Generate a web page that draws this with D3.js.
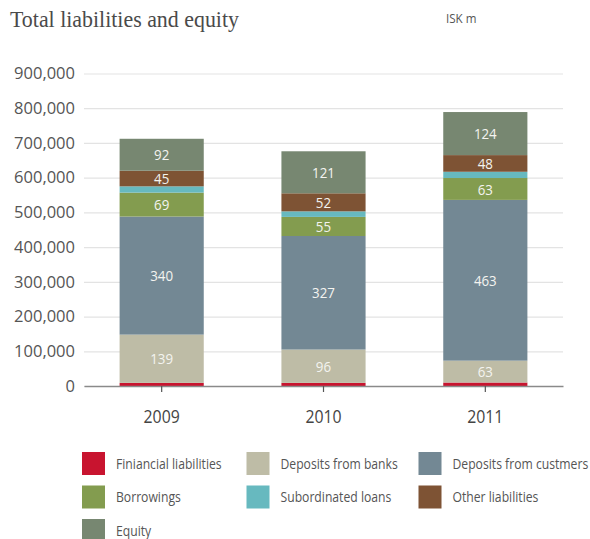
<!DOCTYPE html>
<html>
<head>
<meta charset="utf-8">
<script src="https://cdn.jsdelivr.net/npm/d3@7/dist/d3.min.js"></script>
<style>
  html, body { margin: 0; padding: 0; background: #fff; }
  svg { display: block; }
</style>
</head>
<body>
<svg id="chart" width="590" height="539"></svg>
<script>
// Balance sheet composition, ISK bn per segment (axis shown in ISK m)
const years = ["2009", "2010", "2011"];
const seriesNames = [
  "Finiancial liabilities",
  "Deposits from banks",
  "Deposits from custmers",
  "Borrowings",
  "Subordinated loans",
  "Other liabilities",
  "Equity"
];
const financialLiabilities = [9, 9, 10];
const depositsFromBanks = [139, 96, 63];
const depositsFromCustomers = [340, 327, 463];
const borrowings = [69, 55, 63];
const subordinatedLoans = [18, 16, 18];
const otherLiabilities = [45, 52, 48];
const equity = [92, 121, 124];
const yTickValues = [0, 100000, 200000, 300000, 400000, 500000, 600000, 700000, 800000, 900000];

// Which series carry a value label inside the bar
const labelled = [false, true, true, true, false, true, true];

const colors = ["#c8142f", "#bebca6", "#738894", "#839c4f", "#67b9bf", "#7e5334", "#778771"];

const seriesValues = [
  financialLiabilities, depositsFromBanks, depositsFromCustomers,
  borrowings, subordinatedLoans, otherLiabilities, equity
];

// Table form for d3.stack
const rows = years.map((yr, i) => {
  const r = { year: yr };
  seriesNames.forEach((name, s) => { r[name] = seriesValues[s][i]; });
  return r;
});

const svg = d3.select("#chart");
const plotLeft = 84, plotRight = 563, plotTop = 73.5, plotBottom = 386;

const x = d3.scaleBand().domain(years).range([plotLeft, plotRight])
  .paddingInner(0.48).paddingOuter(0.22);
const y = d3.scaleLinear().domain([0, 900000]).range([plotBottom, plotTop]);
const toM = v => v * 1000;  // ISK bn -> ISK m

// Narrow text horizontally about its anchor point to emulate a condensed face
function condense(sel, k) {
  sel.each(function () {
    const t = d3.select(this);
    const px = +t.attr("x") || 0, py = +t.attr("y") || 0;
    t.attr("transform", `translate(${px},${py}) scale(${k},1) translate(${-px},${-py})`);
  });
}

// Title
svg.append("text")
  .attr("x", 10).attr("y", 26.5)
  .attr("font-family", "Liberation Serif, serif")
  .attr("font-size", 23.5)
  .attr("fill", "#4a4a4a")
  .attr("textLength", 229).attr("lengthAdjust", "spacingAndGlyphs")
  .text("Total liabilities and equity");

svg.append("text")
  .attr("x", 446).attr("y", 23.5)
  .attr("font-family", "Open Sans, sans-serif")
  .attr("font-size", 13.5)
  .attr("fill", "#555")
  .text("ISK m")
  .call(condense, 0.86);

// Y axis with gridlines
const yAxis = svg.append("g")
  .attr("transform", `translate(${plotLeft},0)`)
  .call(d3.axisLeft(y).tickValues(yTickValues).tickFormat(d3.format(","))
    .tickSize(-(plotRight - plotLeft)).tickPadding(9));
yAxis.select(".domain").remove();
yAxis.selectAll(".tick line").attr("stroke", "#e3e3e3").attr("stroke-width", 1.2);
yAxis.selectAll(".tick text")
  .attr("font-family", "Open Sans, sans-serif")
  .attr("font-size", 16.5)
  .attr("fill", "#555");

// Stacked bars
const stack = d3.stack().keys(seriesNames);
const layers = stack(rows);

const layerG = svg.append("g").selectAll("g")
  .data(layers).join("g")
  .attr("fill", (d, i) => colors[i]);

layerG.selectAll("rect")
  .data(d => d)
  .join("rect")
  .attr("x", d => x(d.data.year))
  .attr("width", x.bandwidth())
  .attr("y", d => y(toM(d[1])))
  .attr("height", d => y(toM(d[0])) - y(toM(d[1])));

// Value labels inside segments
layers.forEach((layer, s) => {
  if (!labelled[s]) return;
  svg.append("g").selectAll("text")
    .data(layer).join("text")
    .attr("x", d => x(d.data.year) + x.bandwidth() / 2)
    .attr("y", d => y(toM((d[0] + d[1]) / 2)))
    .attr("text-anchor", "middle")
    .attr("dominant-baseline", "central")
    .attr("font-family", "Open Sans, sans-serif")
    .attr("font-size", 14.5)
    .attr("fill", "#f4f4f0")
    .text(d => d[1] - d[0])
    .call(condense, 0.92);
});

// X axis
const xAxis = svg.append("g")
  .attr("transform", `translate(0,${plotBottom})`)
  .call(d3.axisBottom(x).tickSizeOuter(0).tickSizeInner(6).tickPadding(18.5));
xAxis.select(".domain").attr("stroke", "#8a8a8a").attr("stroke-width", 1.6);
xAxis.selectAll(".tick line").attr("stroke", "#555").attr("stroke-width", 1.2);
xAxis.selectAll(".tick text")
  .attr("font-family", "Open Sans, sans-serif")
  .attr("font-size", 18)
  .attr("fill", "#444")
  .call(condense, 0.88);

// Legend
const legendCols = [82, 246.5, 418.5];
const legendRows = [452, 485.5, 519];
const legend = svg.append("g").selectAll("g")
  .data(seriesNames).join("g")
  .attr("transform", (d, i) => `translate(${legendCols[i % 3]},${legendRows[Math.floor(i / 3)]})`);
legend.append("rect")
  .attr("width", 23).attr("height", 23)
  .attr("fill", (d, i) => colors[i]);
legend.append("text")
  .attr("x", 34).attr("y", 11.5)
  .attr("dominant-baseline", "central")
  .attr("font-family", "Open Sans, sans-serif")
  .attr("font-size", 14)
  .attr("fill", "#555")
  .text(d => d)
  .call(condense, 0.87);
</script>
</body>
</html>
